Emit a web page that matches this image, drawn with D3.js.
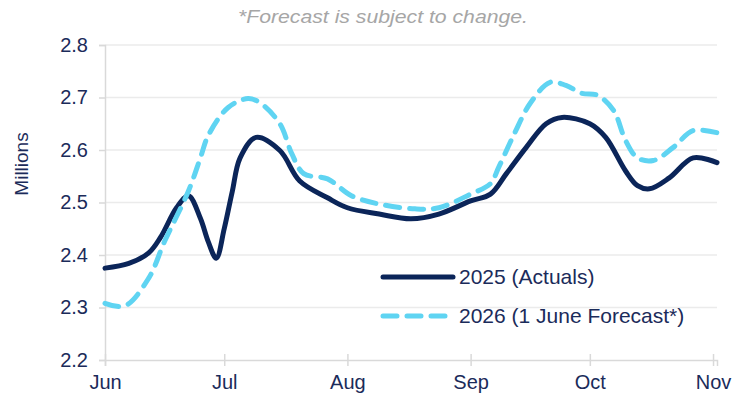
<!DOCTYPE html>
<html>
<head>
<meta charset="utf-8">
<script src="https://cdn.jsdelivr.net/npm/d3@7"></script>
<style>
  body { margin: 0; background: #fff; }
  svg { display: block; font-family: "Liberation Sans", Arial, sans-serif; }
</style>
</head>
<body>
<div id="chart"></div>
<script>
// Data, dates as month-day on a shared year
const actualDates = ["06-01","06-07","06-12","06-15","06-19","06-22","06-25","06-27","06-29","07-01","07-03","07-05","07-09","07-15","07-20","07-27","08-01","08-09","08-17","08-24","09-01","09-06","09-10","09-15","09-20","09-24","10-01","10-05","10-10","10-13","10-16","10-21","10-27","11-02"]
const actualValues = [2.375,2.384,2.404,2.434,2.49,2.513,2.47,2.425,2.394,2.45,2.52,2.585,2.624,2.599,2.541,2.509,2.49,2.478,2.469,2.478,2.503,2.516,2.555,2.605,2.65,2.662,2.65,2.624,2.56,2.532,2.526,2.547,2.585,2.576]

const forecastDates = ["06-01","06-06","06-12","06-16","06-22","06-25","06-27","07-02","07-07","07-10","07-15","07-18","07-21","07-27","08-02","08-09","08-18","08-24","09-01","09-06","09-08","09-12","09-16","09-21","09-25","09-29","10-03","10-07","10-10","10-13","10-17","10-22","10-27","11-02"]
const forecastValues = [2.308,2.303,2.356,2.426,2.522,2.585,2.628,2.681,2.698,2.69,2.65,2.593,2.555,2.545,2.513,2.497,2.488,2.49,2.516,2.536,2.566,2.631,2.689,2.729,2.723,2.708,2.704,2.675,2.618,2.585,2.58,2.605,2.637,2.633]

const monthTicks = ["06-01","07-01","08-01","09-01","10-01","11-01"]
const yTicks = [2.2, 2.3, 2.4, 2.5, 2.6, 2.7, 2.8]
const seriesNames = ["2025 (Actuals)", "2026 (1 June Forecast*)"]

const width = 735, height = 396
const margin = {top: 45, right: 18, bottom: 36, left: 105}

const navy = "#0b2559"
const sky = "#5fd4f2"
const textColor = "#1b2b5a"

const parseDay = d3.timeParse("%Y-%m-%d")
function toDate(s) { return parseDay("2025-" + s) }

const actual = actualDates.map(function(d, i) { return {date: toDate(d), value: actualValues[i]} })
const forecast = forecastDates.map(function(d, i) { return {date: toDate(d), value: forecastValues[i]} })

const svg = d3.select("#chart").append("svg")
   .attr("width", width)
   .attr("height", height)

const x = d3.scaleTime()
   .domain([toDate("06-01"), toDate("11-02")])
   .range([margin.left, width - margin.right])

const y = d3.scaleLinear()
   .domain([2.2, 2.8])
   .range([height - margin.bottom, margin.top])

// Title note
svg.append("text")
   .attr("x", 383)
   .attr("y", 23)
   .attr("text-anchor", "middle")
   .attr("fill", "#a6a6a6")
   .attr("font-size", 19)
   .attr("font-style", "italic")
   .attr("textLength", 290)
   .attr("lengthAdjust", "spacingAndGlyphs")
   .text("*Forecast is subject to change.")

// Gridlines
svg.append("g")
   .selectAll("line")
   .data(yTicks.slice(1))
   .enter().append("line")
      .attr("x1", x.range()[0])
      .attr("x2", x.range()[1])
      .attr("y1", function(d) { return y(d) })
      .attr("y2", function(d) { return y(d) })
      .attr("stroke", "#ebebeb")
      .attr("stroke-width", 1.5)

// Y axis
const yAxis = svg.append("g")
   .attr("transform", "translate(" + margin.left + ",0)")
   .call(d3.axisLeft(y).tickValues(yTicks).tickFormat(d3.format(".1f")).tickSize(6).tickPadding(11))
yAxis.select(".domain").attr("stroke", "#d9d9d9").attr("stroke-width", 1.5)
yAxis.selectAll(".tick line").attr("stroke", "#d9d9d9").attr("stroke-width", 1.5)
yAxis.selectAll("text").attr("fill", textColor).attr("font-size", 20).attr("font-family", "Liberation Sans, Arial, sans-serif")

// X axis
const xAxis = svg.append("g")
   .attr("transform", "translate(0," + (height - margin.bottom) + ")")
   .call(d3.axisBottom(x).tickValues(monthTicks.map(toDate)).tickFormat(d3.timeFormat("%b")).tickSize(6).tickPadding(9))
xAxis.select(".domain").attr("stroke", "#d9d9d9").attr("stroke-width", 1.5)
xAxis.selectAll(".tick line").attr("y1", -6).attr("stroke", "#d9d9d9").attr("stroke-width", 1.5)
xAxis.selectAll("text").attr("fill", textColor).attr("font-size", 20).attr("font-family", "Liberation Sans, Arial, sans-serif")

// Y axis title
svg.append("text")
   .attr("transform", "translate(21,164) rotate(-90)")
   .attr("text-anchor", "middle")
   .attr("dy", "0.35em")
   .attr("fill", textColor)
   .attr("font-size", 19)
   .text("Millions")

const line = d3.line()
   .x(function(d) { return x(d.date) })
   .y(function(d) { return y(d.value) })
   .curve(d3.curveCatmullRom.alpha(0.5))

svg.append("path")
   .datum(actual)
   .attr("d", line)
   .attr("fill", "none")
   .attr("stroke", navy)
   .attr("stroke-width", 5)
   .attr("stroke-linejoin", "round")
   .attr("stroke-linecap", "round")

svg.append("path")
   .datum(forecast)
   .attr("d", line)
   .attr("fill", "none")
   .attr("stroke", sky)
   .attr("stroke-width", 5)
   .attr("stroke-dasharray", "14,10")
   .attr("stroke-linecap", "round")

// Legend
const legend = svg.append("g").attr("transform", "translate(383,277)")
const legendRows = legend.selectAll("g")
   .data(seriesNames)
   .enter().append("g")
      .attr("transform", function(d, i) { return "translate(0," + (i * 39) + ")" })

legendRows.append("line")
   .attr("x1", 0)
   .attr("x2", function(d, i) { return i == 0 ? 70 : 64 })
   .attr("stroke", function(d, i) { return i == 0 ? navy : sky })
   .attr("stroke-width", 5)
   .attr("stroke-linecap", "round")
   .attr("stroke-dasharray", function(d, i) { return i == 0 ? null : "14,10" })

legendRows.append("text")
   .attr("x", 76)
   .attr("dy", "0.35em")
   .attr("fill", textColor)
   .attr("font-size", 21)
   .text(function(d) { return d })
</script>
</body>
</html>
